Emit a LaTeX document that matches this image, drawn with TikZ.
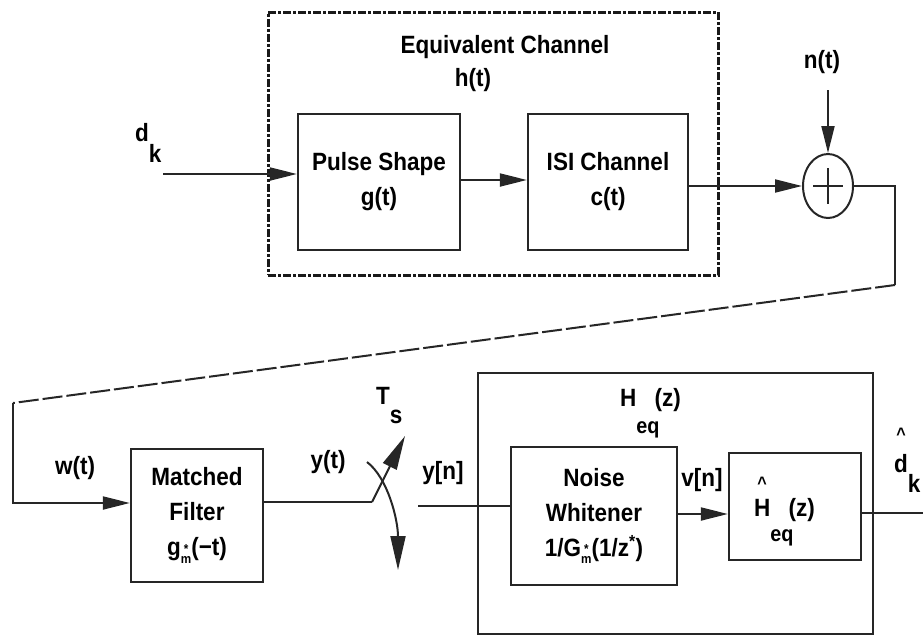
\documentclass[tikz,border=0pt]{standalone}
\usepackage{fontspec}
\setmainfont{Liberation Sans}[FakeStretch=0.9]
\usetikzlibrary{arrows.meta,shapes.geometric}
\newcommand\supsub[2]{\raisebox{-0.3em}{\fontsize{13}{10}\selectfont\shortstack{#1\\#2}}}
\newcommand\hatover[3]{\makebox[0pt][l]{\makebox[#1]{\raisebox{#2}{\fontsize{18}{18}\selectfont\textasciicircum}}}#3}
\begin{document}
\begin{tikzpicture}[x=1pt,y=-1pt,
  box/.style={draw=black!85, line width=2.3pt, rectangle, inner sep=0pt, align=center,
    font=\fontsize{25}{35}\selectfont\bfseries},
  lbl/.style={inner sep=0pt, font=\fontsize{25}{30}\selectfont\bfseries},
  conn/.style={line width=2pt, draw=black!85},
  arr/.style={conn, -{Triangle[length=27pt,width=13pt]}},
  bigarr/.style={conn, -{Triangle[length=34pt,width=15pt]}}]
\useasboundingbox (0,0) rectangle (923,637);

% ---- top: equivalent channel ----
\node[draw=black!90, line width=3pt, dash pattern=on 8pt off 2pt on 3pt off 2pt,
      minimum width=450pt, minimum height=263pt, inner sep=0pt] (eqch) at (493,143.5) {};
\node[lbl] (eqlbl) at (505,47) {Equivalent Channel};
\node[lbl] (htlbl) at (473,80) {h(t)};

\node[box, minimum width=162pt, minimum height=136pt] (pulse) at (379,182) {Pulse Shape\\g(t)};
\node[box, minimum width=160pt, minimum height=136pt] (isi) at (608,182) {ISI Channel\\c(t)};

\node[draw=black!85, line width=2pt, ellipse, minimum width=50pt, minimum height=64pt, inner sep=0pt] (sum) at (828,186) {};
\draw[conn] ([xshift=-15pt]sum.center) -- ([xshift=15pt]sum.center);
\draw[conn] ([yshift=18pt]sum.center) -- ([yshift=-18pt]sum.center);

\node[lbl, anchor=base west] (dk) at (135,141) {d\raisebox{-21pt}{k}};
\node[lbl] (nt) at (822,62) {n(t)};

\coordinate (din) at (163,174);
\coordinate (ntop) at (828,90);
\coordinate (r1) at (895,186);
\coordinate (r2) at (895,285);
\coordinate (l1) at (13,403);
\coordinate (l2) at (13,503);

\draw[arr] (din) -- (pulse.west |- din);
\draw[arr] (pulse.east |- 0,180) -- (isi.west |- 0,180);
\draw[arr] (isi.east |- sum.west) -- (sum.west);
\draw[arr] (ntop) -- (sum.north);
\draw[conn] (sum.east) -- (r1) -- (r2);
\draw[conn, dash pattern=on 20pt off 4pt] (r2) -- (l1);

% ---- bottom ----
\node[box, minimum width=132pt, minimum height=133pt] (mf) at (197,515.5)
  {Matched\\Filter\\g\supsub{*}{m}(−t)};
\node[lbl] (wt) at (75,468) {w(t)};
\draw[arr] (l1) -- (l2) -- (mf.west |- l2);

\node[lbl] (yt) at (328,462) {y(t)};
\node[lbl, anchor=base west] (ts) at (376,404) {T\raisebox{-19pt}{s}};
\coordinate (sw) at (372,502);
\coordinate (swt) at (405,436);
\coordinate (c0) at (367,462);
\coordinate (c1) at (398,570);
\draw[conn] (mf.east |- sw) -- (sw);
\draw[bigarr] (sw) -- (swt);
\draw[bigarr] (c0) .. controls (388,478) and (398,520) .. (c1);

\node[box, minimum width=395pt, minimum height=261pt] (heq) at (675.5,503.5) {};
\node[lbl, anchor=base west] (heqlbl) at (620,406)
  {H\raisebox{-27pt}{\fontsize{22}{22}\selectfont eq}\hspace{-5pt}(z)};

\node[lbl] (yn) at (443,473) {y[n]};
\coordinate (ynin) at (418,506);

\node[box, minimum width=166pt, minimum height=138pt] (nw) at (594,516)
  {Noise\\Whitener\\1/G\supsub{*}{m}(1/z\textsuperscript{*})};
\draw[conn] (ynin) -- (nw.west |- ynin);

\node[lbl] (vn) at (702,480) {v[n]};
\node[box, minimum width=132pt, minimum height=107pt] (hh) at (795,506.5) {};
\node[lbl, anchor=base west] (hhlbl) at (754,516)
  {\hatover{16pt}{27pt}{H}\raisebox{-25pt}{\fontsize{22}{22}\selectfont eq}\hspace{-5pt}(z)};
\draw[arr] (nw.east |- 0,514) -- (hh.west |- 0,514);

\coordinate (out) at (923,513);
\draw[conn] (hh.east |- out) -- (out);
\node[lbl, anchor=base west] (dhat) at (894,472) {\hatover{14pt}{32pt}{d}\raisebox{-20pt}{k}};
\end{tikzpicture}
\end{document}
